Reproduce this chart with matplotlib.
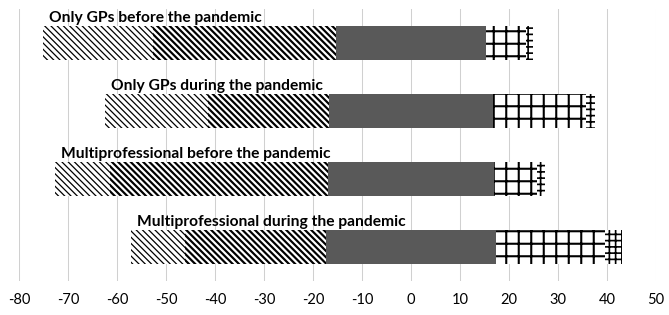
import numpy as np
import matplotlib
matplotlib.use("Agg")
import matplotlib.pyplot as plt

plt.rcParams['axes.unicode_minus'] = False
plt.rcParams['font.family'] = ['Lato', 'DejaVu Sans']

# survey shares (%) per group, from most negative to most positive
groups = ["Only GPs before the pandemic",
          "Only GPs during the pandemic",
          "Multiprofessional before the pandemic",
          "Multiprofessional during the pandemic"]
very_neg = [22.3, 21.0, 11.3, 11.0]
neg = [37.5, 24.7, 44.5, 28.7]
neutral = [30.5, 33.5, 33.7, 34.7]
pos = [8.2, 19.0, 8.8, 22.2]
very_pos = [1.5, 1.8, 1.7, 3.6]
xticks = list(range(-80, 51, 10))

segments = [
    (very_neg, dict(color='white', edgecolor='black', hatch='\\\\\\\\'), 1.2),
    (neg, dict(color='white', edgecolor='black', hatch='\\\\\\\\'), 2.1),
    (neutral, dict(color='#595959', edgecolor='#595959'), 0),
    (pos, dict(color='white', edgecolor='black', hatch='+'), 2.0),
    (very_pos, dict(color='white', edgecolor='black', hatch='++'), 1.6),
]

fig = plt.figure(figsize=(669 / 75, 316 / 75), dpi=75)
ax = fig.add_axes([19 / 669, 1 - 282 / 316, (656 - 19) / 669, 272 / 316])

y = np.arange(len(groups))[::-1]
h = 0.51
left = -(np.array(very_neg) + np.array(neg) + np.array(neutral) / 2)
start = left.copy()
for vals, style, hlw in segments:
    plt.rcParams['hatch.linewidth'] = hlw if hlw else 1.0
    bars = ax.barh(y, vals, left=start, height=h, linewidth=0, zorder=2, **style)
    for b in bars:
        if hasattr(b, 'set_hatch_linewidth') and hlw:
            b.set_hatch_linewidth(hlw)
    start = start + np.array(vals)

for yi, lx, name in zip(y, left, groups):
    ax.text(lx + 1.2, yi + h / 2 + 0.02, name, ha='left', va='bottom',
            fontsize=15, fontweight='bold', zorder=3)

ax.set_xlim(-80, 50)
ax.set_ylim(-0.5, 3.5)
ax.set_xticks(xticks)
ax.set_xticklabels([str(t) for t in xticks])
ax.set_yticks([])
ax.tick_params(axis='x', length=0, labelsize=14, pad=11)
ax.grid(axis='x', color='#d0d0d0', linewidth=1, zorder=0)
for s in ax.spines.values():
    s.set_visible(False)

fig.savefig('out.png', dpi=75)
